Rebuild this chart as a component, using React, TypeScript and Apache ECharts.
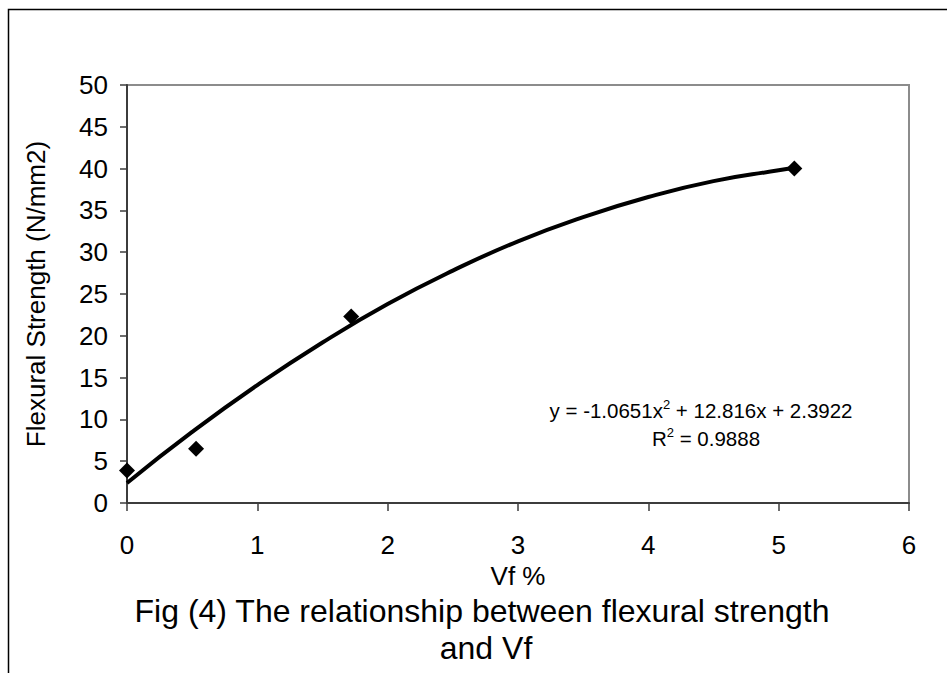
import React, { useEffect, useRef } from "react";
import * as echarts from "echarts";

// Measured points (Vf %, flexural strength N/mm2)
const vf = [0, 0.53, 1.72, 5.12];
const strength = [3.9, 6.5, 22.3, 40.0];

// Trendline points
const trendX = [0, 0.5, 1, 1.5, 2, 2.5, 3, 3.5, 4, 4.5, 5, 5.12];
const trendY = [2.4, 8.5, 14.1, 19.2, 23.8, 27.8, 31.3, 34.2, 36.6, 38.5, 39.8, 40.1];

const xTicks = [0, 6, 1];
const yTicks = [0, 50, 5];

const yTitle = "Flexural Strength (N/mm2)";
const xTitle = "Vf %";
const captionLines = ["Fig (4) The relationship between flexural strength", "and Vf"];
const eqLine1 = "y = -1.0651x{sup|2} + 12.816x + 2.3922";
const eqLine2 = "R{sup|2} = 0.9888";

const FONT = "Arial, 'Liberation Sans', sans-serif";

export default function App() {
  const ref = useRef<HTMLDivElement>(null);
  useEffect(() => {
    if (!ref.current) return;
    const chart = echarts.init(ref.current, null, { renderer: "svg" });
    const axisColor = "#3c3c3c";
    const supRich = {
      sup: { fontSize: 13, fontFamily: FONT, color: "#000", verticalAlign: "top", lineHeight: 24 },
    };
    chart.setOption({
      animation: false,
      backgroundColor: "#fff",
      textStyle: { fontFamily: FONT },
      grid: {
        left: 127,
        right: 38,
        top: 85,
        bottom: 170,
        show: true,
        borderColor: "#8c8c8c",
        borderWidth: 2,
        backgroundColor: "transparent",
      },
      xAxis: {
        type: "value",
        min: xTicks[0],
        max: xTicks[1],
        interval: xTicks[2],
        name: xTitle,
        nameLocation: "middle",
        nameGap: 56,
        nameTextStyle: { fontSize: 26, color: "#000", fontFamily: FONT },
        axisLine: { show: true, lineStyle: { color: axisColor, width: 2 } },
        axisTick: { show: true, inside: false, length: 8, lineStyle: { color: axisColor, width: 1.5 } },
        axisLabel: { fontSize: 26, color: "#000", margin: 29, fontFamily: FONT },
        splitLine: { show: false },
      },
      yAxis: {
        type: "value",
        min: yTicks[0],
        max: yTicks[1],
        interval: yTicks[2],
        name: yTitle,
        nameLocation: "middle",
        nameGap: 78,
        nameRotate: 90,
        nameTextStyle: { fontSize: 26, color: "#000", fontFamily: FONT },
        axisLine: { show: true, lineStyle: { color: axisColor, width: 2 } },
        axisTick: { show: true, inside: false, length: 7, lineStyle: { color: axisColor, width: 1.5 } },
        axisLabel: { fontSize: 26, color: "#000", margin: 19, fontFamily: FONT },
        splitLine: { show: false },
      },
      series: [
        {
          type: "line",
          data: trendX.map((x, i) => [x, trendY[i]]),
          smooth: true,
          showSymbol: false,
          lineStyle: { color: "#000", width: 4 },
          z: 2,
        },
        {
          type: "scatter",
          data: vf.map((x, i) => [x, strength[i]]),
          symbol: "diamond",
          symbolSize: 16,
          itemStyle: { color: "#000", opacity: 1 },
          z: 3,
        },
      ],
      graphic: [
        {
          type: "rect",
          shape: { x: 8.5, y: 9.5, width: 1200, height: 1000 },
          style: { fill: "none", stroke: "#000", lineWidth: 1.5 },
          silent: true,
        },
        {
          type: "text",
          x: 701,
          y: 410,
          style: {
            text: eqLine1,
            fontSize: 20.5,
            fontFamily: FONT,
            fill: "#000",
            align: "center",
            verticalAlign: "middle",
            rich: supRich,
            lineHeight: 24,
          },
        },
        {
          type: "text",
          x: 706,
          y: 438,
          style: {
            text: eqLine2,
            fontSize: 20.5,
            fontFamily: FONT,
            fill: "#000",
            align: "center",
            verticalAlign: "middle",
            rich: supRich,
            lineHeight: 24,
          },
        },
        {
          type: "text",
          x: 482,
          y: 611,
          style: {
            text: captionLines[0],
            fontSize: 32,
            fontFamily: FONT,
            fill: "#000",
            align: "center",
            verticalAlign: "middle",
          },
        },
        {
          type: "text",
          x: 486,
          y: 648,
          style: {
            text: captionLines[1],
            fontSize: 32,
            fontFamily: FONT,
            fill: "#000",
            align: "center",
            verticalAlign: "middle",
          },
        },
      ],
    });
    return () => chart.dispose();
  }, []);
  return (
    <div
      ref={ref}
      style={{ position: "fixed", left: 0, top: 0, width: 947, height: 673, background: "#fff" }}
    />
  );
}
